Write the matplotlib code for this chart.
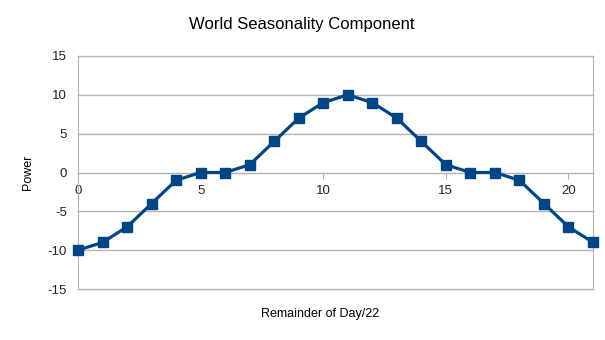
import matplotlib
matplotlib.use("Agg")
import matplotlib.pyplot as plt

# seasonality component, one value per remainder step
remainder = list(range(22))
power = [-10, -9, -7, -4, -1, 0, 0, 1, 4, 7, 9, 10, 9, 7, 4, 1, 0, 0, -1, -4, -7, -9]
y_ticks = [-15, -10, -5, 0, 5, 10, 15]
x_ticks = [0, 5, 10, 15, 20]

plt.rcParams['font.family'] = ['Liberation Sans', 'DejaVu Sans']
plt.rcParams['axes.unicode_minus'] = False
GRID = '#b3b3b3'

fig = plt.figure(figsize=(6.05, 3.4), dpi=100)
ax = fig.add_axes([78/605, 1 - 289/340, (593 - 78)/605, (289 - 56)/340])

ax.plot(remainder, power, color='#004586', linewidth=2.3, marker='s',
        markersize=7.5, zorder=3, clip_on=False)

ax.set_xlim(0, 21)
ax.set_ylim(-15, 15)
ax.set_yticks(y_ticks)
ax.set_xticks(x_ticks)
for yv in y_ticks:
    ax.axhline(yv, color=GRID, linewidth=1, zorder=0, clip_on=False)

ax.spines['top'].set_visible(False)
ax.spines['left'].set_color(GRID)
ax.spines['right'].set_color(GRID)
ax.spines['bottom'].set_position(('data', 0))
ax.spines['bottom'].set_color(GRID)
ax.tick_params(axis='y', length=0, labelsize=9.5, colors='#222222', pad=8)
ax.tick_params(axis='x', length=4, color=GRID, labelsize=9.5, labelcolor='#222222', pad=5)

fig.text(302/605, 1 - 25/340, 'World Seasonality Component', ha='center', va='center',
         fontsize=12)
fig.text(320/605, 1 - 314/340, 'Remainder of Day/22', ha='center', va='center', fontsize=9)
fig.text(28/605, 1 - 172/340, 'Power', ha='center', va='center', rotation=90, fontsize=9)

fig.savefig('out.png', dpi=100)
